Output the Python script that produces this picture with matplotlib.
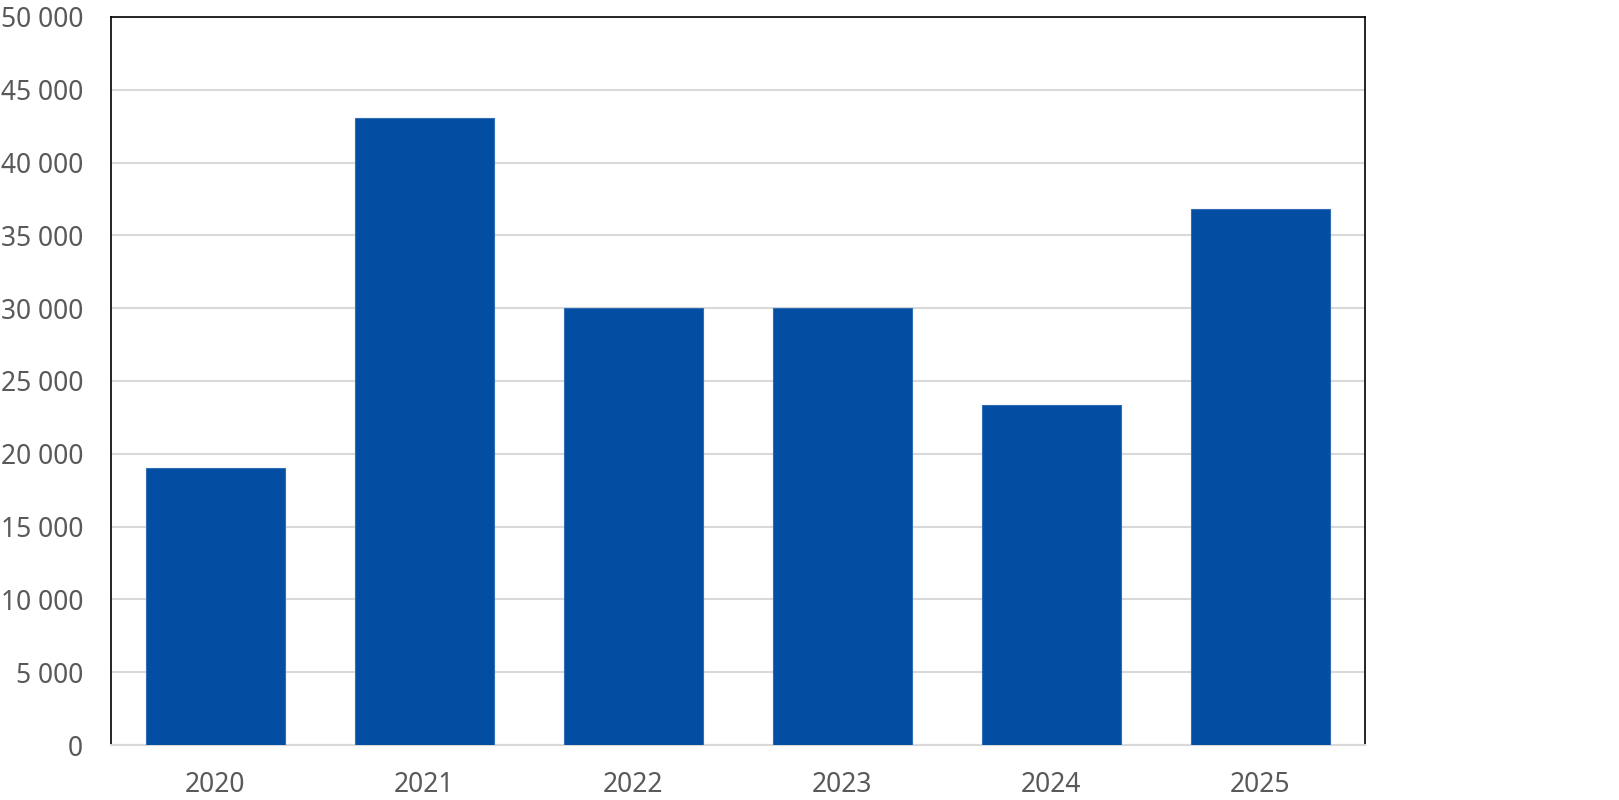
import matplotlib
matplotlib.use("Agg")
import matplotlib.pyplot as plt
from matplotlib.ticker import FuncFormatter, MultipleLocator

years = ["2020", "2021", "2022", "2023", "2024", "2025"]
values = [19000, 43050, 30000, 30000, 23350, 36800]

plt.rcParams['font.family'] = ['Noto Sans', 'DejaVu Sans']

fig = plt.figure(figsize=(16.19, 8.0), dpi=100)
ax = fig.add_axes([111/1619, 1 - 745/800, (1364.5 - 111)/1619, (745 - 17)/800])

x = range(len(years))
ax.bar(x, values, width=0.665, color="#034EA2", edgecolor="#2F6DB5", linewidth=0.8, zorder=3)

ax.set_xlim(-0.5, len(years) - 0.5)
ax.set_ylim(0, 50000)
ax.yaxis.set_major_locator(MultipleLocator(5000))
ax.yaxis.set_major_formatter(FuncFormatter(lambda v, p: f"{int(v):,}".replace(",", " ")))
ax.set_xticks(list(x))
ax.set_xticklabels(years)

ax.grid(axis="y", color="#D9D9D9", linewidth=1.5, zorder=0)
ax.set_axisbelow(True)

for s in ["left", "top", "right"]:
    ax.spines[s].set_color("black")
    ax.spines[s].set_linewidth(1.2)
ax.spines["bottom"].set_color("#D9D9D9")
ax.spines["bottom"].set_linewidth(1.5)

ax.tick_params(axis="y", length=0, colors="#595959", labelsize=19, pad=20)
ax.tick_params(axis="x", length=0, colors="#595959", labelsize=19, pad=19)

fig.canvas.draw()
fig.savefig("out.png", dpi=100, facecolor="white")
